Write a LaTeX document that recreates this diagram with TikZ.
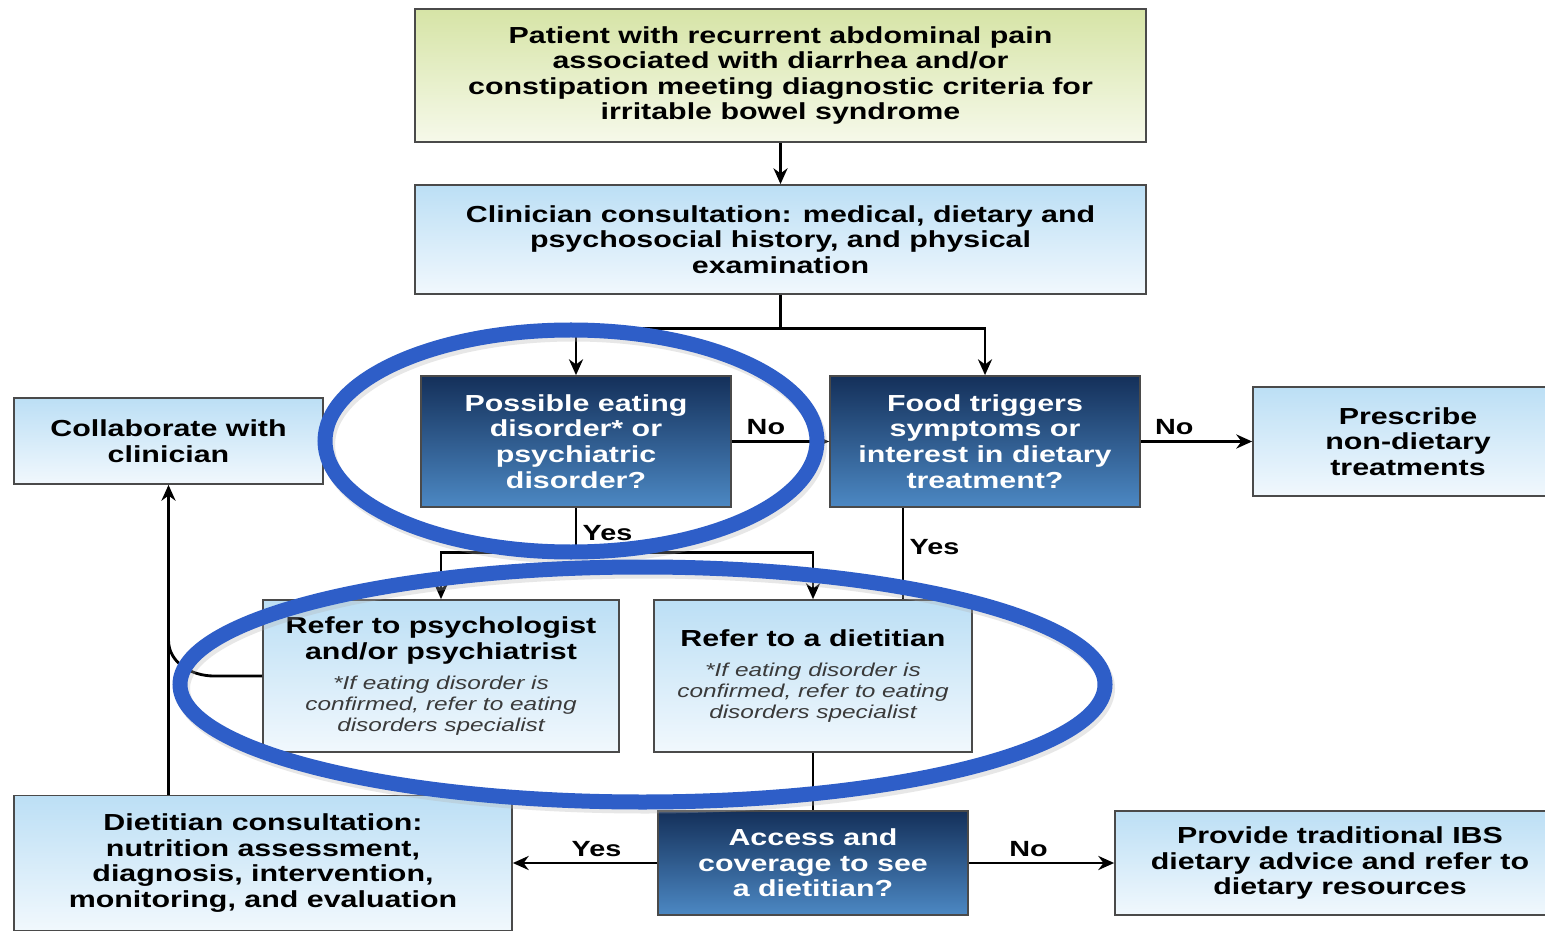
\documentclass[tikz,border=0pt]{standalone}
\usepackage{fontspec}
\newfontfamily\chartfont[FakeStretch=1.31]{Liberation Sans}
\usepackage{tikz}
\usetikzlibrary{arrows.meta,positioning,calc}
\usepackage{xcolor}
\definecolor{fcLine}{HTML}{4A4A4A}
\definecolor{fcGreenTop}{HTML}{D6E4A6}
\definecolor{fcGreenBot}{HTML}{F6F9EA}
\definecolor{fcPaleTop}{HTML}{BCDFF5}
\definecolor{fcPaleBot}{HTML}{F1F8FD}
\definecolor{fcDarkTop}{HTML}{14305A}
\definecolor{fcDarkBot}{HTML}{4C88C3}
\definecolor{fcNote}{HTML}{3A3A3A}
\definecolor{fcRing}{HTML}{2E5EC8}
\newcommand{\fnote}[1]{{\fontsize{10.6}{12}\selectfont\mdseries\itshape\color{fcNote}#1}}
\tikzset{
  box/.style={draw=fcLine, line width=1pt, align=center, inner sep=2pt,
              font=\chartfont\bfseries\fontsize{13.2}{14.6}\selectfont, minimum width=#1},
  box/.default=6.2cm,
  green/.style={top color=fcGreenTop, bottom color=fcGreenBot},
  pale/.style={top color=fcPaleTop, bottom color=fcPaleBot},
  dark/.style={top color=fcDarkTop, bottom color=fcDarkBot, text=white},
  line/.style={black, line width=1.6pt},
  arr/.style={line, -{Stealth[length=9pt, width=8pt]}},
  lbl/.style={font=\chartfont\bfseries\fontsize{12.5}{14}\selectfont, inner sep=3pt},
  ring/.style={draw=fcRing, line width=0.3cm},
  ringshade/.style={draw=black!30, opacity=0.3, line width=0.3cm},
}
\begin{document}
\begin{tikzpicture}
    \useasboundingbox (0,0) rectangle (30.9,-18.66);
    \fill[white] (0,0) rectangle (30.9,-18.66);
    \node[box=14.62cm, green, minimum height=2.66cm] (patient) at (15.61,-1.51)
      {Patient with recurrent abdominal pain\\associated with diarrhea and/or\\constipation meeting diagnostic criteria for\\irritable bowel syndrome};
    \node[box=14.62cm, pale, minimum height=2.18cm] (clinic) at (15.61,-4.79)
      {Clinician consultation: medical, dietary and\\psychosocial history, and physical\\examination};
    \node[box=6.18cm, pale, minimum height=1.72cm] (collab) at (3.37,-8.82)
      {Collaborate with\\clinician};
    \node[box, dark, minimum height=2.62cm] (eating) at (11.52,-8.83)
      {Possible eating\\disorder* or\\psychiatric\\disorder?};
    \node[box, dark, minimum height=2.62cm] (food) at (19.70,-8.83)
      {Food triggers\\symptoms or\\interest in dietary\\treatment?};
    \node[box, pale, minimum height=2.18cm] (prescribe) at (28.16,-8.83)
      {Prescribe\\non-dietary\\treatments};
    \node[box=7.12cm, pale, minimum height=3.04cm] (psych) at (8.82,-13.52)
      {Refer to psychologist\\and/or psychiatrist\\[2.4pt]\fnote{*If eating disorder is}\\[-2.6pt]
       \fnote{confirmed, refer to eating}\\[-2.6pt]\fnote{disorders specialist}};
    \node[box=6.36cm, pale, minimum height=3.04cm] (diet) at (16.26,-13.52)
      {Refer to a dietitian\\[2.4pt]\fnote{*If eating disorder is}\\[-2.6pt]
       \fnote{confirmed, refer to eating}\\[-2.6pt]\fnote{disorders specialist}};
    \node[box=9.96cm, pale, minimum height=2.7cm] (dcons) at (5.26,-17.26)
      {Dietitian consultation:\\nutrition assessment,\\diagnosis, intervention,\\monitoring, and evaluation};
    \node[box, dark, minimum height=2.08cm] (access) at (16.26,-17.26)
      {Access and\\coverage to see\\a dietitian?};
    \node[box=9.0cm, pale, minimum height=2.08cm] (trad) at (26.80,-17.26)
      {Provide traditional IBS\\dietary advice and refer to\\dietary resources};
    % connectors
    \draw[arr] (patient) -- (clinic);
    \draw[line] (clinic.south) -- ++(0,-0.68) coordinate (split);
    \draw[arr] (split) -| (eating.north);
    \draw[arr] (split) -| (food.north);
    \draw[arr] (eating) -- node[lbl, above, pos=0.35] {No} (food);
    \draw[arr] (food) -- node[lbl, above, pos=0.3] {No} (prescribe);
    \draw[line] (eating.south) -- node[lbl, right, pos=0.55] {Yes} ++(0,-0.9) coordinate (fork);
    \draw[arr] (fork) -| (psych.north);
    \draw[arr] (fork) -| (diet.north);
    \draw[line] ([xshift=-1.64cm]food.south) -- node[lbl, right, pos=0.43] {Yes}
      ([xshift=-1.64cm]food.south |- diet.north);
    \draw[line] (diet) -- (access);
    \draw[arr] (access) -- node[lbl, above, pos=0.42] {Yes} (dcons);
    \draw[arr] (access) -- node[lbl, above, pos=0.41] {No} (trad);
    \draw[arr] (dcons.north -| collab.south) -- (collab.south);
    \coordinate (merge) at (3.37,-12.80);
    \draw[line] (psych.west) -- ++(-0.96,0) to[out=180, in=-90] (merge);
    % highlight rings
    \draw[ringshade] (11.47,-8.9) ellipse [x radius=4.92, y radius=2.22];
    \draw[ringshade] (12.9,-13.77) ellipse [x radius=9.25, y radius=2.35];
    \draw[ring] (11.42,-8.82) ellipse [x radius=4.92, y radius=2.22];
    \draw[ring] (12.85,-13.69) ellipse [x radius=9.25, y radius=2.35];
\end{tikzpicture}
\end{document}
